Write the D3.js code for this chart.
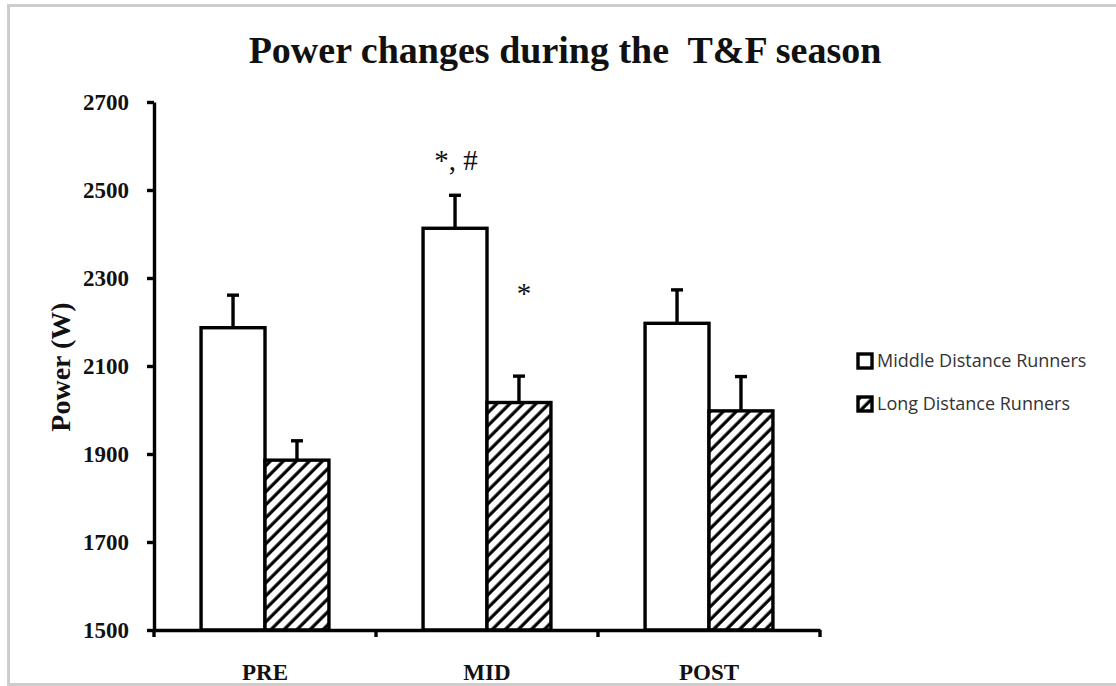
<!DOCTYPE html>
<html>
<head>
<meta charset="utf-8">
<script src="https://cdn.jsdelivr.net/npm/d3@7"></script>
<style>
  html, body { margin: 0; padding: 0; background: #fff; }
  svg { display: block; }
</style>
</head>
<body>
<svg id="chart" width="1116" height="686"></svg>
<script>
// ---- data ----
const categories = ["PRE", "MID", "POST"];
const seriesNames = ["Middle Distance Runners", "Long Distance Runners"];
const middleValues = [2187, 2413, 2197];
const middleErrors = [74, 75, 76];
const longValues = [1886, 2017, 1998];
const longErrors = [44, 60, 78];
const yTicks = [1500, 1700, 1900, 2100, 2300, 2500, 2700];
const titleText = "Power changes during the  T&F season";
const yLabel = "Power (W)";
const annotations = [
  { category: "MID", series: 0, text: "*, #", value: 2545 },
  { category: "MID", series: 1, text: "*", value: 2243 }
];

const svg = d3.select("#chart");
const serif = "'Liberation Serif', 'Times New Roman', serif";

// frame
svg.append("rect").attr("x", 8.5).attr("y", 5.5).attr("width", 1300).attr("height", 679)
  .attr("fill", "none").attr("stroke", "#cdcdcd").attr("stroke-width", 3);

// hatch pattern
const defs = svg.append("defs");
const pat = defs.append("pattern").attr("id", "hatch").attr("patternUnits", "userSpaceOnUse")
  .attr("width", 9.2).attr("height", 9.2).attr("patternTransform", "rotate(45)");
pat.append("rect").attr("width", 9.2).attr("height", 9.2).attr("fill", "#fff");
pat.append("line").attr("x1", 2).attr("y1", -2).attr("x2", 2).attr("y2", 12)
  .attr("stroke", "#000").attr("stroke-width", 3.2);

// scales
const x0 = d3.scaleBand().domain(categories).range([154, 820]).padding(0);
const bw = x0.bandwidth();
const x1 = d3.scaleBand().domain([0, 1]).range([bw * 0.212, bw * 0.788]).padding(0);
const y = d3.scaleLinear().domain([1500, 2700]).range([630, 102]);

const fills = ["#fff", "url(#hatch)"];
const vals = [middleValues, longValues];
const errs = [middleErrors, longErrors];
const SW = 3.4;

// bars
const rows = [];
categories.forEach((c, i) => {
  [0, 1].forEach(s => rows.push({ c, s, v: vals[s][i], e: errs[s][i] }));
});

const g = svg.append("g");
g.selectAll("rect.bar").data(rows).join("rect")
  .attr("class", "bar")
  .attr("x", d => x0(d.c) + x1(d.s))
  .attr("y", d => y(d.v))
  .attr("width", x1.bandwidth())
  .attr("height", d => y(1500) - y(d.v))
  .attr("fill", d => fills[d.s])
  .attr("stroke", "#000").attr("stroke-width", SW);

// error bars
g.selectAll("line.err").data(rows).join("line")
  .attr("x1", d => x0(d.c) + x1(d.s) + x1.bandwidth() / 2)
  .attr("x2", d => x0(d.c) + x1(d.s) + x1.bandwidth() / 2)
  .attr("y1", d => y(d.v)).attr("y2", d => y(d.v + d.e))
  .attr("stroke", "#000").attr("stroke-width", SW);
g.selectAll("line.cap").data(rows).join("line")
  .attr("x1", d => x0(d.c) + x1(d.s) + x1.bandwidth() / 2 - 6)
  .attr("x2", d => x0(d.c) + x1(d.s) + x1.bandwidth() / 2 + 6)
  .attr("y1", d => y(d.v + d.e)).attr("y2", d => y(d.v + d.e))
  .attr("stroke", "#000").attr("stroke-width", SW);

// y axis
const yAxis = svg.append("g").attr("transform", "translate(154,0)")
  .call(d3.axisLeft(y).tickValues(yTicks).tickFormat(d3.format("d"))
    .tickSize(7).tickPadding(18).tickSizeOuter(0));
yAxis.select(".domain").attr("stroke-width", SW).attr("stroke", "#000");
yAxis.selectAll(".tick line").attr("stroke-width", SW);
yAxis.selectAll(".tick text").attr("font-family", serif).attr("font-weight", "bold")
  .attr("font-size", 23).attr("fill", "#111");

// x axis
const xAxis = svg.append("g").attr("transform", "translate(0,630)")
  .call(d3.axisBottom(x0).tickSize(0).tickPadding(34).tickSizeOuter(0));
xAxis.select(".domain").attr("stroke-width", SW).attr("stroke", "#000");
xAxis.selectAll(".tick text").attr("font-family", serif).attr("font-weight", "bold")
  .attr("font-size", 23).attr("fill", "#111");
const bounds = categories.map(c => x0(c)).concat([x0.range()[1]]);
svg.append("g").selectAll("line").data(bounds).join("line")
  .attr("x1", d => d).attr("x2", d => d).attr("y1", 630).attr("y2", 637)
  .attr("stroke", "#000").attr("stroke-width", SW);

// annotations
svg.append("g").selectAll("text").data(annotations).join("text")
  .attr("x", d => x0(d.category) + x1(d.series) + x1.bandwidth() / 2 + (d.series === 0 ? 1 : 5))
  .attr("y", d => y(d.value))
  .attr("text-anchor", "middle")
  .attr("font-family", serif).attr("font-size", 29).attr("fill", "#111")
  .text(d => d.text);

// title
svg.append("text").attr("x", 565).attr("y", 63).attr("text-anchor", "middle")
  .attr("font-family", serif).attr("font-weight", "bold").attr("font-size", 38)
  .attr("fill", "#111").style("white-space", "pre").attr("xml:space", "preserve")
  .text(titleText);

// y label
svg.append("text").attr("transform", "translate(70,367) rotate(-90)")
  .attr("text-anchor", "middle")
  .attr("font-family", serif).attr("font-weight", "bold").attr("font-size", 28)
  .attr("fill", "#111").text(yLabel);

// legend
const legend = svg.append("g").attr("transform", "translate(858,354)");
const items = legend.selectAll("g").data(seriesNames).join("g")
  .attr("transform", (d, i) => `translate(0,${i * 43})`);
items.append("rect").attr("x", 0).attr("y", 0).attr("width", 14).attr("height", 14)
  .attr("fill", (d, i) => fills[i]).attr("stroke", "#000").attr("stroke-width", 3.4);
items.append("text").attr("x", 19).attr("y", 7).attr("dy", "0.35em")
  .attr("font-family", "'Open Sans', sans-serif").attr("font-size", 18)
  .attr("fill", "#333").text(d => d);
</script>
</body>
</html>
